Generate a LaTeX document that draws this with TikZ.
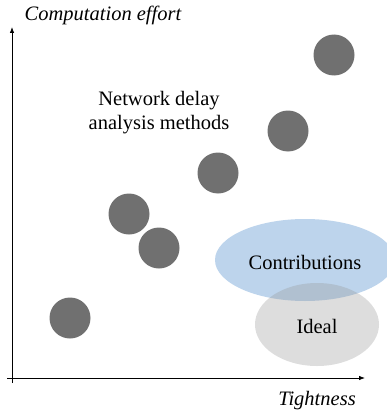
\documentclass[tikz,border=0pt]{standalone}
\usepackage{fontspec}
\setmainfont{Liberation Serif}
\usetikzlibrary{arrows.meta,shapes.geometric}
\definecolor{methodgray}{RGB}{112,112,112}
\definecolor{contribblue}{RGB}{189,212,236}
\definecolor{idealgray}{RGB}{150,150,150}
\begin{document}
\begin{tikzpicture}[x=1pt,y=-1pt,
  every node/.style={font=\fontsize{20.5}{24}\selectfont},
  axis/.style={line width=0.8pt,-{Latex[length=6pt,width=4.5pt]}},
  method/.style={circle,fill=methodgray,minimum size=41pt,inner sep=0pt},
  axislabel/.style={font=\fontsize{20.5}{24}\selectfont\itshape}]
\useasboundingbox (0,0) rectangle (386,412);

% axes
\coordinate (ybot) at (12,383);
\coordinate (ytop) at (12,27);
\coordinate (xleft) at (7,378);
\coordinate (xright) at (365,378);
\draw[axis] (ybot) -- (ytop);
\draw[axis] (xleft) -- (xright);
\node[axislabel] (ylab) at (103,15) {Computation effort};
\node[axislabel] (xlab) at (317,401) {Tightness};

% regions
\node[ellipse,fill=contribblue,minimum width=180pt,minimum height=82pt,inner sep=0pt] (contrib) at (305,260) {};
\node[ellipse,fill=idealgray,fill opacity=0.32,minimum width=124pt,minimum height=83pt,inner sep=0pt] (ideal) at (317,324.5) {};
\node (contribtxt) at (305,262) {Contributions};
\node (idealtxt) at (317,326) {Ideal};

% existing methods
\node[method] (m1) at (334,55) {};
\node[method] (m2) at (288,131) {};
\node[method] (m3) at (218,173) {};
\node[method] (m4) at (129,214) {};
\node[method] (m5) at (159,248) {};
\node[method] (m6) at (70,318) {};
\node[align=center] (methods) at (159,113) {Network delay\\analysis methods};
\end{tikzpicture}
\end{document}
